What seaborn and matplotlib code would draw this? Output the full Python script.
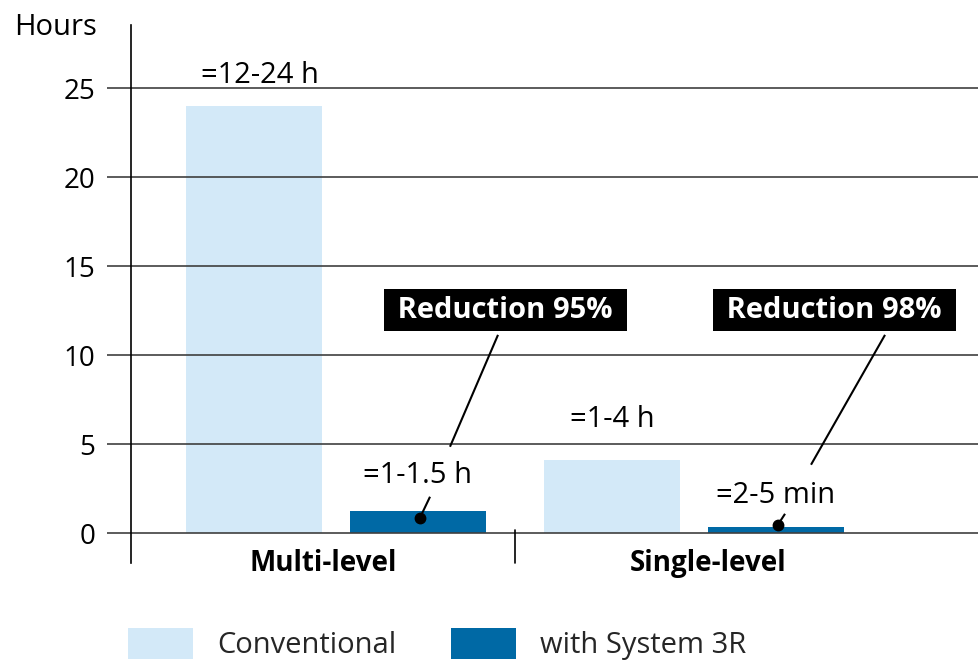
import numpy as np
import pandas as pd
import matplotlib
matplotlib.use("Agg")
import matplotlib.pyplot as plt
import matplotlib.transforms as mtransforms
from matplotlib.patches import Patch
import seaborn as sns

# ---- data ----
categories = ["Multi-level", "Single-level"]
methods = ["Conventional", "with System 3R"]
conventional_hours = [24.0, 4.1]
system3r_hours = [1.25, 0.35]
value_labels = ["=12-24 h", "=1-1.5 h", "=1-4 h", "=2-5 min"]  # order: conv ML, 3R ML, conv SL, 3R SL
reduction_labels = ["Reduction 95%", "Reduction 98%"]
y_ticks = [0, 5, 10, 15, 20, 25]

sns.set_theme(style="white")
plt.rcParams["font.family"] = ["Open Sans", "DejaVu Sans"]

light = "#D3E9F8"
dark = "#0069A5"
gridc = "#3f3f3f"
FS = 20
FT = 21

df = pd.DataFrame({
    "Category": categories * 2,
    "Method": [methods[0]] * 2 + [methods[1]] * 2,
    "Hours": conventional_hours + system3r_hours,
})

fig = plt.figure(figsize=(9.79, 6.64), dpi=100)
ax = fig.add_axes([131 / 979, 101 / 664, 848 / 979, 538 / 664])

sns.barplot(data=df, x="Category", y="Hours", hue="Method", order=categories,
            hue_order=methods, palette=[light, dark], saturation=1,
            width=0.916, gap=0.17, linewidth=0, legend=False, ax=ax, zorder=1)

ax.set_xlim(-0.5726, 1.796)
ax.set_ylim(-1.685, 28.56)
ax.set_xlabel("")
ax.set_ylabel("")

# grid above bars
ax.set_axisbelow(False)
ax.set_yticks(y_ticks)
ax.yaxis.grid(True, color=gridc, linewidth=1.2, zorder=2.5)
ax.xaxis.grid(False)
ax.tick_params(axis="y", which="both", left=True, length=17.3, width=1.2,
               color=gridc, pad=8.6, labelsize=FS, labelcolor="black")
for sp in ["top", "right", "bottom"]:
    ax.spines[sp].set_visible(False)
ax.spines["left"].set_color("black")
ax.spines["left"].set_linewidth(1.2)
ax.spines["left"].set_zorder(3)

# category labels
ax.set_xticks([])
blend = mtransforms.blended_transform_factory(ax.transData, ax.transAxes)
cat_dx = [-13, 14]
for i, c in enumerate(categories):
    tr = blend + mtransforms.ScaledTranslation(cat_dx[i] / 100, 0, fig.dpi_scale_trans)
    ax.text(i, -0.0156, c, transform=tr, ha="center", va="baseline",
            fontsize=FS, fontweight="bold", color="black")

# separator between categories
ax.plot([0.5, 0.5], [-1.685, 0.17], color="black", lw=1.2, clip_on=False, zorder=3)

# value labels above bars
bars = sorted([p for p in ax.patches if p.get_height() > 0], key=lambda p: p.get_x())
label_dy_px = [23, 28, 33, 24]
label_dx_px = [6, 0, 0, 0]
for p, lab, dy, dx in zip(bars, value_labels, label_dy_px, label_dx_px):
    ax.annotate(lab, (p.get_x() + p.get_width() / 2, p.get_height()),
                xytext=(dx * 0.72, dy * 0.72), textcoords="offset points",
                ha="center", va="baseline", fontsize=FT, color="black", zorder=4)

# reduction boxes
box_pos = [(0.4735, 12.52), (1.3925, 12.52)]
for (bx, by), lab in zip(box_pos, reduction_labels):
    ax.text(bx, by, " " + lab + " ", ha="center", va="center", fontsize=FT,
            fontweight="bold", color="white", zorder=6,
            bbox=dict(boxstyle="square,pad=0.22", fc="black", ec="none"))

# leader lines
leaders = [
    [(0.4525, 11.14), (0.3184, 4.85)],
    [(1.5335, 11.14), (1.3268, 3.84)],
]
stubs = [
    [(0.2626, 2.04), (0.2346, 0.86)],
    [(1.2542, 1.08), (1.2338, 0.45)],
]
for seg in leaders + stubs:
    (x0, y0), (x1, y1) = seg
    ax.plot([x0, x1], [y0, y1], color="black", lw=1.5, zorder=5, solid_capstyle="butt")
for seg in stubs:
    ax.plot([seg[1][0]], [seg[1][1]], marker="o", color="black", markersize=7.5, zorder=5)

# y-axis title
fig.text(97 / 979, 1 - 35 / 664, "Hours", ha="right", va="baseline", fontsize=FT, color="black")

# legend
handles = [Patch(facecolor=light, edgecolor="none"), Patch(facecolor=dark, edgecolor="none")]
fs_px = FT * 100 / 72
fig.legend(handles, methods, loc="center left", bbox_to_anchor=(128 / 979, 1 - 644 / 664),
           ncol=2, frameon=False, fontsize=FT, borderpad=0, borderaxespad=0,
           handlelength=65 / fs_px, handleheight=36 / fs_px, handletextpad=24 / fs_px,
           columnspacing=55 / fs_px)

fig.savefig("out.png", dpi=100)
